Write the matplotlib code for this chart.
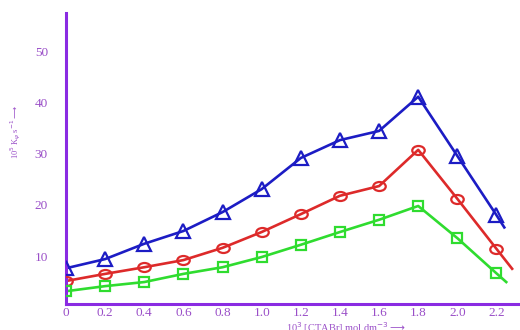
import numpy as np
import matplotlib
matplotlib.use('Agg')
import matplotlib.pyplot as plt
from matplotlib.path import Path

# ── data ─────────────────────────────────────────────────────────────────────
conc = [0.0, 0.2, 0.4, 0.6, 0.8, 1.0, 1.2, 1.4, 1.6, 1.8, 2.0, 2.2]
k_blue = [7.6, 9.4, 12.4, 14.9, 18.6, 23.1, 29.2, 32.7, 34.5, 41.2, 29.6, 18.0]
k_red = [5.1, 6.5, 7.8, 9.2, 11.6, 14.7, 18.2, 21.8, 23.7, 30.8, 21.2, 11.4]
k_green = [3.1, 4.1, 4.9, 6.5, 7.8, 9.8, 12.2, 14.7, 17.1, 19.8, 13.5, 6.6]

# line tails running on past the last marker
tail_x = [2.24, 2.28, 2.25]
tail_y = [15.6, 7.5, 4.9]

xticks = [0, 0.2, 0.4, 0.6, 0.8, 1.0, 1.2, 1.4, 1.6, 1.8, 2.0, 2.2]
xlabels = ['0', '0.2', '0.4', '0.6', '0.8', '1.0', '1.2', '1.4', '1.6',
           '1.8', '2.0', '2.2']
yticks = [10, 20, 30, 40, 50]

purple = '#8a2be2'
label_col = '#9a4fc8'

# the source image is slightly squashed: circles come out as flat ellipses
circ = Path.unit_circle()
ellipse = Path(circ.vertices * np.array([1.0, 0.72]), circ.codes)

fig = plt.figure(figsize=(5.2, 3.3), dpi=100)
ax = fig.add_axes([66 / 520, 26 / 330, (518 - 66) / 520, (304 - 13) / 330])

series = [
    (k_blue, '#1c1cc4', '^', 10, 0),
    (k_red, '#dd2a2a', ellipse, 9, 1),
    (k_green, '#2fdc2f', 's', 7, 2),
]
for vals, col, mk, ms, i in series:
    ax.plot(conc + [tail_x[i]], vals + [tail_y[i]], '-', color=col, lw=1.9,
            zorder=2)
    ax.plot(conc, vals, linestyle='none', marker=mk, ms=ms, mfc='none',
            mec=col, mew=1.6, zorder=3)

ax.set_xlim(0, 2.31)
ax.set_ylim(0.6, 57.6)
ax.set_xticks(xticks)
ax.set_xticklabels(xlabels)
ax.set_yticks(yticks)

for side in ('top', 'right'):
    ax.spines[side].set_visible(False)
for side in ('left', 'bottom'):
    ax.spines[side].set_color(purple)
    ax.spines[side].set_linewidth(2.2)

ax.tick_params(length=0, labelcolor=label_col, labelsize=9.5)
ax.tick_params(axis='x', pad=2)
ax.tick_params(axis='y', pad=13)
for t in ax.get_xticklabels() + ax.get_yticklabels():
    t.set_family('Liberation Serif')

fig.text(16 / 520, 1 - 132 / 330,
         r'10$^5$ K$_\psi$ s$^{-1}$$\longrightarrow$', rotation=90,
         ha='center', va='center', color=label_col, fontsize=6,
         family='Liberation Serif')
fig.text(346 / 520, 1 - 328 / 330,
         r'10$^3$ [CTABr] mol dm$^{-3}$$\longrightarrow$',
         ha='center', va='center', color=label_col, fontsize=7.5,
         family='Liberation Serif')

fig.savefig('out.png', dpi=100)
